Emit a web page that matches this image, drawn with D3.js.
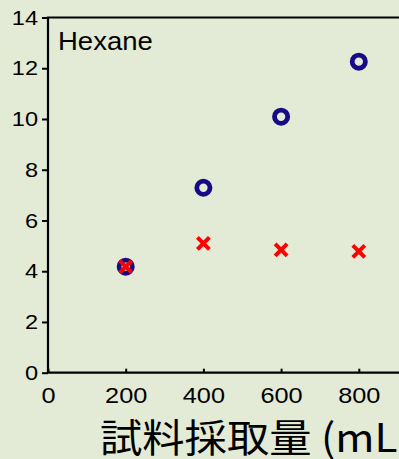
<!DOCTYPE html>
<html>
<head>
<meta charset="utf-8">
<script src="https://cdn.jsdelivr.net/npm/d3@7"></script>
<style>
  html, body { margin: 0; padding: 0; background: #e3ead5; }
  svg { display: block; }
</style>
</head>
<body>
<script>
// Sample volume (mL) and measured values for hexane
const volumes = [200, 400, 600, 800];
const seriesCircle = [4.18, 7.29, 10.09, 12.26];
const seriesCross = [4.18, 5.10, 4.84, 4.78];
const xTicks = [0, 200, 400, 600, 800];
const yTicks = [0, 2, 4, 6, 8, 10, 12, 14];
const panelLabel = "Hexane";
const xTitle = "試料採取量 (mL)";

const W = 399, H = 459;
const plotLeft = 48, plotTop = 17.5, plotBottom = 372.7, plotRight = 436.5;

const svg = d3.select("body").append("svg")
  .attr("width", W).attr("height", H);

svg.append("rect").attr("width", W).attr("height", H).attr("fill", "#e3ead5");

const x = d3.scaleLinear().domain([0, 1000]).range([plotLeft, plotRight]);
const y = d3.scaleLinear().domain([0, 14]).range([plotBottom, plotTop]);

const tickFont = "'Liberation Sans', Arial, sans-serif";

// y axis: outward ticks
const gy = svg.append("g")
  .attr("transform", `translate(${plotLeft},0)`)
  .call(d3.axisLeft(y).tickValues(yTicks).tickSize(6).tickPadding(4).tickFormat(d3.format("d")));
gy.select(".domain").remove();
gy.selectAll(".tick line").attr("stroke", "#000").attr("stroke-width", 2);
gy.selectAll(".tick text").each(function () {
  const t = d3.select(this);
  const tx = +t.attr("x");
  t.attr("x", 0).attr("transform", `translate(${tx},0) scale(1.15,1)`);
}).attr("fill", "#000").style("font-family", tickFont).style("font-size", "20.5px");

// x axis: inward ticks
const gx = svg.append("g")
  .attr("transform", `translate(0,${plotBottom})`)
  .call(d3.axisBottom(x).tickValues(xTicks).tickSize(-4).tickPadding(15).tickFormat(d3.format("d")));
gx.select(".domain").remove();
gx.selectAll(".tick line").attr("stroke", "#000").attr("stroke-width", 2);
gx.selectAll(".tick text").each(function () {
  const t = d3.select(this);
  const ty = +t.attr("y");
  t.attr("y", 0).attr("transform", `translate(0,${ty}) scale(1.15,1)`);
}).attr("fill", "#000").style("font-family", tickFont).style("font-size", "22px");

// frame (right side runs past the view)
svg.append("path")
  .attr("d", `M${plotRight},${plotTop}H${plotLeft}V${plotBottom}H${plotRight}`)
  .attr("fill", "none").attr("stroke", "#000").attr("stroke-width", 2.2);

// panel label
svg.append("text")
  .attr("transform", `translate(58,50) scale(1.1,1)`)
  .style("font-family", tickFont).style("font-size", "25px")
  .attr("fill", "#000").text(panelLabel);

// circle series
svg.append("g").selectAll("circle").data(volumes)
  .join("circle")
  .attr("cx", d => x(d))
  .attr("cy", (d, i) => y(seriesCircle[i]))
  .attr("r", 6.6)
  .attr("fill", "none")
  .attr("stroke", "#160a87")
  .attr("stroke-width", 4.8);

// cross series
const cs = 6;
svg.append("g").selectAll("path").data(volumes)
  .join("path")
  .attr("d", (d, i) => {
    const cx = x(d), cy = y(seriesCross[i]);
    return `M${cx - cs},${cy - cs}L${cx + cs},${cy + cs}M${cx - cs},${cy + cs}L${cx + cs},${cy - cs}`;
  })
  .attr("fill", "none")
  .attr("stroke", "#ff0000")
  .attr("stroke-width", 4);

// x axis title
svg.append("text")
  .attr("transform", "translate(100,452) scale(1.085,1)")
  .style("font-family", "'Noto Sans CJK JP', sans-serif")
  .style("font-size", "39px")
  .attr("fill", "#000")
  .text(xTitle);
</script>
</body>
</html>
